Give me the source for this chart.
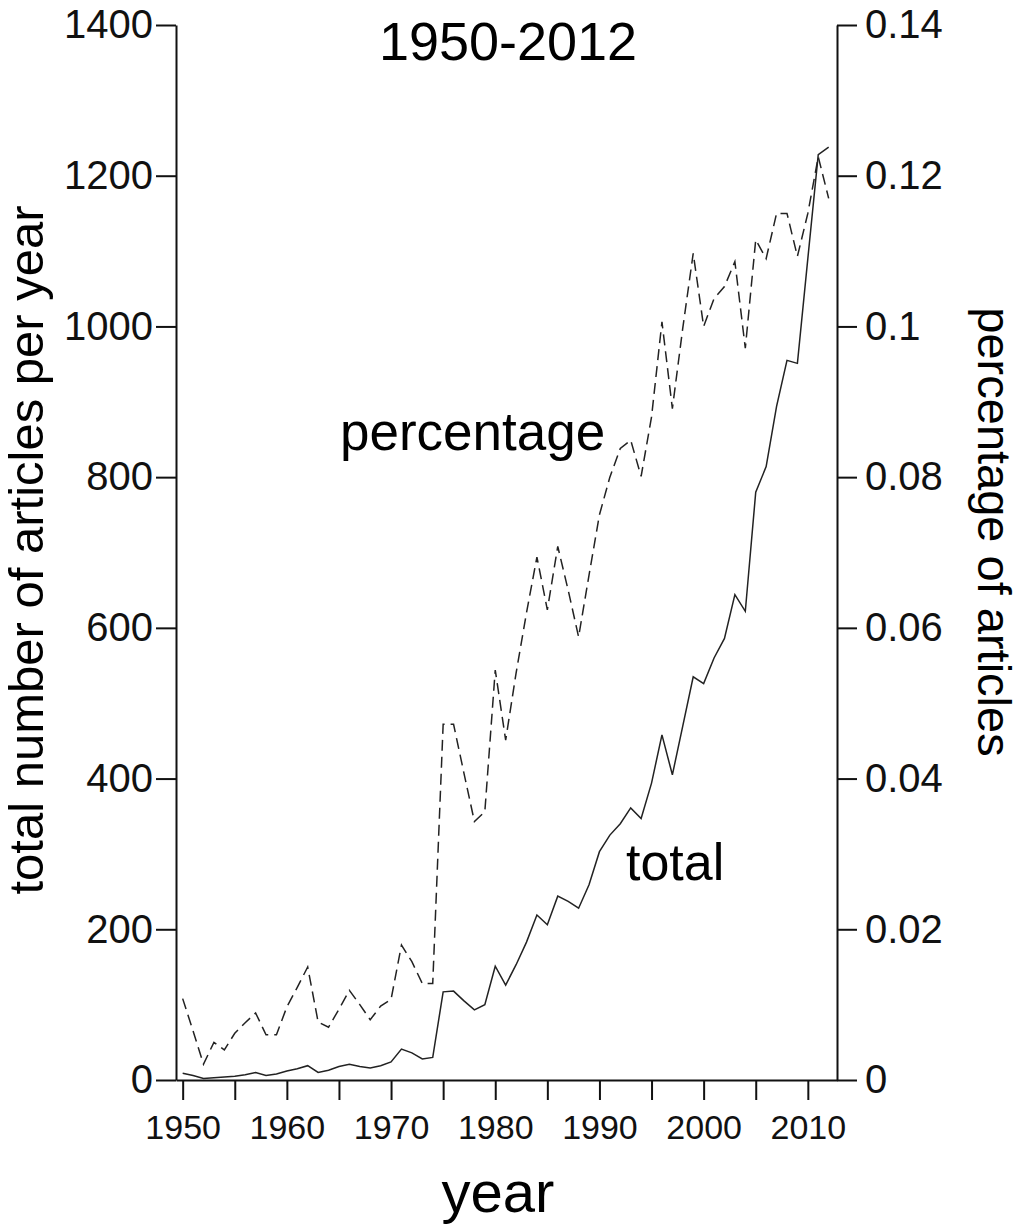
<!DOCTYPE html>
<html>
<head>
<meta charset="utf-8">
<script src="https://cdn.jsdelivr.net/npm/d3@7"></script>
<style>
  body { margin: 0; background: #fff; }
  svg { display: block; font-family: 'Liberation Sans', Arial, sans-serif; }
</style>
</head>
<body>
<div id="chart"></div>
<script>
// data, one value per year
const years = [
  1950, 1951, 1952, 1953, 1954, 1955, 1956, 1957, 1958, 1959,
  1960, 1961, 1962, 1963, 1964, 1965, 1966, 1967, 1968, 1969,
  1970, 1971, 1972, 1973, 1974, 1975, 1976, 1977, 1978, 1979,
  1980, 1981, 1982, 1983, 1984, 1985, 1986, 1987, 1988, 1989,
  1990, 1991, 1992, 1993, 1994, 1995, 1996, 1997, 1998, 1999,
  2000, 2001, 2002, 2003, 2004, 2005, 2006, 2007, 2008, 2009,
  2010, 2011, 2012
]

const totalArticles = [
  9, 6, 2, 3, 4, 5, 7, 10, 6, 8,
  12, 15, 19, 10, 13, 18, 21, 18, 16, 19,
  24, 41, 36, 28, 30, 117, 118, 105, 93, 100,
  151, 126, 153, 183, 219, 206, 244, 237, 228, 259,
  303, 325, 340, 361, 347, 394, 458, 405, 470, 535,
  526, 560, 586, 644, 622, 780, 814, 894, 955, 951,
  1090, 1228, 1238
]

const percentArticles = [
  0.0108, 0.0065, 0.0021, 0.0050, 0.0040, 0.0062, 0.0076, 0.0089, 0.0060, 0.0060,
  0.0097, 0.0123, 0.0150, 0.0077, 0.0070, 0.0094, 0.0119, 0.0100, 0.0080, 0.0098,
  0.0107, 0.0179, 0.0157, 0.0128, 0.0128, 0.0472, 0.0472, 0.0407, 0.0343, 0.0356,
  0.0544, 0.0451, 0.0540, 0.0620, 0.0694, 0.0624, 0.0708, 0.0650, 0.0588, 0.0670,
  0.0750, 0.0800, 0.0838, 0.0849, 0.0801, 0.0880, 0.1006, 0.0891, 0.0998, 0.1097,
  0.1000, 0.1037, 0.1053, 0.1086, 0.0971, 0.1115, 0.1090, 0.1150, 0.1150, 0.1093,
  0.1150, 0.1225, 0.1170
]

const yearTicks = [1950, 1955, 1960, 1965, 1970, 1975, 1980, 1985, 1990, 1995, 2000, 2005, 2010]
const leftTicks = [0, 200, 400, 600, 800, 1000, 1200, 1400]
const rightTicks = [0, 0.02, 0.04, 0.06, 0.08, 0.1, 0.12, 0.14]

const width = 1027
const height = 1228
const margin = { top: 25, right: 190, bottom: 148, left: 176 }

const svg = d3
  .select('#chart')
  .append('svg')
  .attr('width', width)
  .attr('height', height)

const xScale = d3
  .scaleLinear()
  .domain([1949.36, 2012.8])
  .range([margin.left, width - margin.right])

const yLeft = d3
  .scaleLinear()
  .domain([0, 1400])
  .range([height - margin.bottom, margin.top])

const yRight = d3
  .scaleLinear()
  .domain([0, 0.14])
  .range([height - margin.bottom, margin.top])

const xAxis = d3
  .axisBottom(xScale)
  .tickValues(yearTicks)
  .tickFormat((d) => (d % 10 === 0 ? String(d) : ''))
  .tickSize(20)
  .tickSizeOuter(0)
  .tickPadding(15)

const leftAxis = d3
  .axisLeft(yLeft)
  .tickValues(leftTicks)
  .tickFormat((d) => String(d))
  .tickSize(20)
  .tickSizeOuter(0)
  .tickPadding(3)

const rightAxis = d3
  .axisRight(yRight)
  .tickValues(rightTicks)
  .tickFormat((d) => (d === 0 ? '0' : String(+d.toFixed(2))))
  .tickSize(20)
  .tickSizeOuter(0)
  .tickPadding(8)

const gx = svg
  .append('g')
  .attr('transform', `translate(0, ${height - margin.bottom})`)
  .call(xAxis)
gx.selectAll('text').style('font-size', '34px')

const gl = svg
  .append('g')
  .attr('transform', `translate(${margin.left}, 0)`)
  .call(leftAxis)
gl.selectAll('text').style('font-size', '40px')

const gr = svg
  .append('g')
  .attr('transform', `translate(${width - margin.right}, 0)`)
  .call(rightAxis)
gr.selectAll('text').style('font-size', '40px')

svg.selectAll('.domain, .tick line')
  .attr('stroke', '#111')
  .attr('stroke-width', 2)
svg.selectAll('.tick text').attr('fill', '#111')

const rows = years.map((year, i) => ({
  year,
  total: totalArticles[i],
  pct: percentArticles[i]
}))

const totalLine = d3
  .line()
  .x((d) => xScale(d.year))
  .y((d) => yLeft(d.total))

const pctLine = d3
  .line()
  .x((d) => xScale(d.year))
  .y((d) => yRight(d.pct))

svg
  .append('path')
  .attr('d', pctLine(rows))
  .attr('fill', 'none')
  .attr('stroke', '#222')
  .attr('stroke-width', 1.5)
  .attr('stroke-dasharray', '11,6')

svg
  .append('path')
  .attr('d', totalLine(rows))
  .attr('fill', 'none')
  .attr('stroke', '#222')
  .attr('stroke-width', 1.5)

// titles and in-plot labels
svg
  .append('text')
  .attr('x', 508)
  .attr('y', 60)
  .attr('text-anchor', 'middle')
  .style('font-size', '54px')
  .text('1950-2012')

svg
  .append('text')
  .attr('x', 340)
  .attr('y', 450)
  .style('font-size', '53px')
  .text('percentage')

svg
  .append('text')
  .attr('x', 626)
  .attr('y', 880)
  .style('font-size', '52px')
  .text('total')

svg
  .append('text')
  .attr('x', 498)
  .attr('y', 1212)
  .attr('text-anchor', 'middle')
  .style('font-size', '58px')
  .text('year')

svg
  .append('text')
  .attr('transform', 'translate(43, 550) rotate(-90)')
  .attr('text-anchor', 'middle')
  .style('font-size', '49px')
  .text('total number of articles per year')

svg
  .append('text')
  .attr('transform', 'translate(978, 532) rotate(90)')
  .attr('text-anchor', 'middle')
  .style('font-size', '47px')
  .text('percentage of articles')
</script>
</body>
</html>
